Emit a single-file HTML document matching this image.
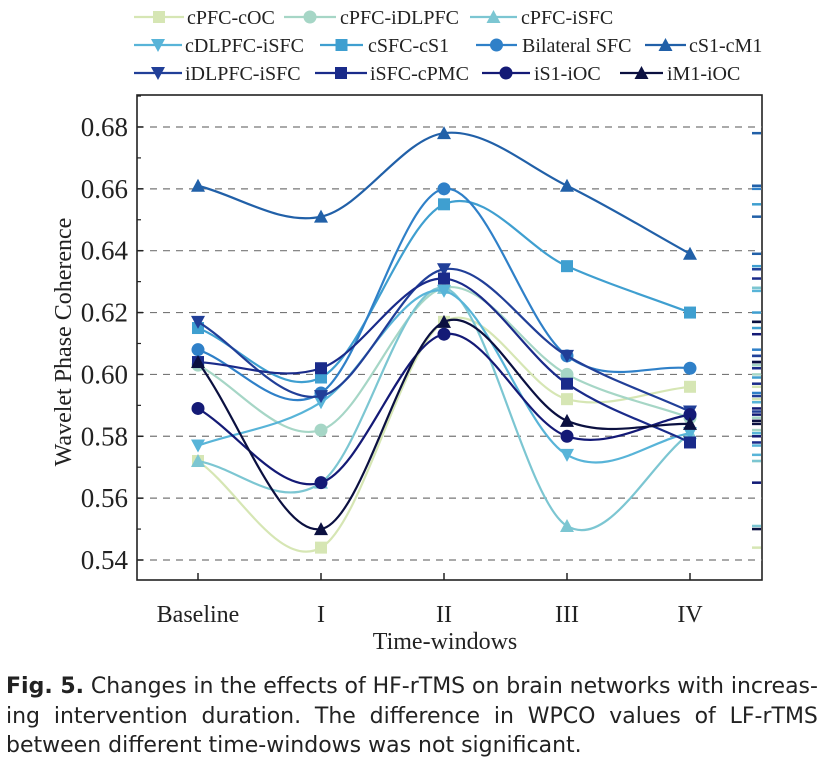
<!DOCTYPE html>
<html><head><meta charset="utf-8"><style>
body{margin:0;background:#fff;width:827px;height:765px;overflow:hidden;position:relative;font-family:"Liberation Serif",serif}
#cap{position:absolute;left:6px;top:672px;width:812px;font-family:"DejaVu Sans",sans-serif;font-size:22px;line-height:29.5px;color:#222;white-space:nowrap}
#cap div{display:flex;justify-content:space-between}
</style></head><body>
<svg id="chart" width="827" height="665" style="position:absolute;left:0;top:0" xmlns="http://www.w3.org/2000/svg"></svg>
<div id="cap">
<div><b>Fig.&nbsp;5.</b><span>Changes</span><span>in</span><span>the</span><span>effects</span><span>of</span><span>HF-rTMS</span><span>on</span><span>brain</span><span>networks</span><span>with</span><span>increas-</span></div>
<div><span>ing</span><span>intervention</span><span>duration.</span><span>The</span><span>difference</span><span>in</span><span>WPCO</span><span>values</span><span>of</span><span>LF-rTMS</span></div>
<div style="display:block">between different time-windows was not significant.</div>
</div>
<script>
const categories=["Baseline","I","II","III","IV"];
const seriesNames=["cPFC-cOC","cPFC-iDLPFC","cPFC-iSFC","cDLPFC-iSFC","cSFC-cS1","Bilateral SFC","cS1-cM1","iDLPFC-iSFC","iSFC-cPMC","iS1-iOC","iM1-iOC"];
const s1=[0.572,0.544,0.617,0.592,0.596];
const s2=[0.603,0.582,0.628,0.600,0.586];
const s3=[0.572,0.565,0.628,0.551,0.581];
const s4=[0.577,0.591,0.627,0.574,0.581];
const s5=[0.615,0.599,0.655,0.635,0.620];
const s6=[0.608,0.594,0.660,0.606,0.602];
const s7=[0.661,0.651,0.678,0.661,0.639];
const s8=[0.617,0.593,0.634,0.606,0.588];
const s9=[0.604,0.602,0.631,0.597,0.578];
const s10=[0.589,0.565,0.613,0.580,0.587];
const s11=[0.604,0.550,0.617,0.585,0.584];
const yTicks=[0.54,0.56,0.58,0.60,0.62,0.64,0.66,0.68];
const colors=["#d6e6b4","#a6d6c6","#7cc6d2","#58b4d8","#3f9fd0","#2f80c8","#2160a8","#213f98","#1a2b8a","#141a76","#0b1040"];
const markers=["sq","ci","tu","td","sq","ci","tu","td","sq","ci","tu"];
const allSeries=[s1,s2,s3,s4,s5,s6,s7,s8,s9,s10,s11];
const NS="http://www.w3.org/2000/svg";
const svg=document.getElementById('chart');
const L=137,R=762,T=95,B=580;
function xs(i){return 198+i*123;}
function ys(v){return 560-(v-0.54)/0.02*61.86;}
function mk(t,a,p){const e=document.createElementNS(NS,t);for(const k in a)e.setAttribute(k,a[k]);(p||svg).appendChild(e);return e;}
function marker(type,x,y,c,s,parent){
  if(type==="sq")return mk('rect',{x:x-s,y:y-s,width:2*s,height:2*s,fill:c},parent);
  if(type==="ci")return mk('circle',{cx:x,cy:y,r:s+0.5,fill:c},parent);
  if(type==="tu")return mk('polygon',{points:`${x-s-1},${y+s} ${x+s+1},${y+s} ${x},${y-s-1}`,fill:c},parent);
  return mk('polygon',{points:`${x-s-1},${y-s} ${x+s+1},${y-s} ${x},${y+s+1}`,fill:c},parent);
}
function curve(px,py){
  const n=px.length,m=[];
  for(let i=0;i<n;i++){
    if(i===0)m.push((py[1]-py[0])/(px[1]-px[0]));
    else if(i===n-1)m.push((py[n-1]-py[n-2])/(px[n-1]-px[n-2]));
    else m.push((py[i+1]-py[i-1])/(px[i+1]-px[i-1]));
  }
  let p=`M${px[0]},${py[0]}`;
  for(let j=0;j<n-1;j++){const h=px[j+1]-px[j];
    p+=` C${px[j]+h/3},${py[j]+m[j]*h/3} ${px[j+1]-h/3},${py[j+1]-m[j+1]*h/3} ${px[j+1]},${py[j+1]}`;}
  return p;
}
const fr=mk('rect',{x:L,y:T,width:R-L,height:B-T,fill:'none',stroke:'#222','stroke-width':1.6});


yTicks.forEach(v=>{
  const g=mk('line',{x1:L,x2:R,y1:ys(v),y2:ys(v),stroke:'#777','stroke-width':1.2,'stroke-dasharray':'7,6'});
  
  
  mk('line',{x1:L,x2:L+6,y1:ys(v),y2:ys(v),stroke:'#222','stroke-width':1.5});
  mk('line',{x1:L,x2:L+4,y1:ys(v+0.01),y2:ys(v+0.01),stroke:'#222','stroke-width':1.2});
  const t=mk('text',{x:L-9,y:ys(v)+9,'text-anchor':'end','font-size':27,fill:'#222','font-family':'Liberation Serif'});
  t.textContent=v.toFixed(2);
  
  
});
categories.forEach((c,i)=>{
  mk('line',{x1:xs(i),x2:xs(i),y1:B,y2:B-7,stroke:'#222','stroke-width':1.5});
  const t=mk('text',{x:xs(i),y:622,'text-anchor':'middle','font-size':24,fill:'#222','font-family':'Liberation Serif'});
  t.textContent=c;
  
  
});
const xt=mk('text',{x:445,y:649,'text-anchor':'middle','font-size':24,fill:'#222','font-family':'Liberation Serif'});
xt.textContent="Time-windows";


const yt=mk('text',{x:0,y:0,'text-anchor':'middle','font-size':24,fill:'#222','font-family':'Liberation Serif',transform:'translate(71,342) rotate(-90)'});
yt.textContent="Wavelet Phase Coherence";


allSeries.forEach((s,k)=>{
  const g=mk('g',{});
  
  
  const px=s.map((v,i)=>xs(i)),py=s.map(v=>ys(v));
  mk('path',{d:curve(px,py),fill:'none',stroke:colors[k],'stroke-width':2.2},g);
  s.forEach((v,i)=>{
    const m=marker(markers[k],xs(i),ys(v),colors[k],6,g);
    
    
  });
  s.forEach(v=>{mk('line',{x1:R-10,x2:R-1,y1:ys(v),y2:ys(v),stroke:colors[k],'stroke-width':2.5},g);});
});
const legPos=[[134,184,187,17],[284,336,340,17],[470,517,521,17],[134,182,185,45],[320,363,368,45],[476,517,522,45],[645,686,689,45],[134,182,185,73],[315,367,370,73],[482,530,534,73],[620,663,667,73]];
seriesNames.forEach((n,k)=>{
  const [a,b,tx,y]=legPos[k];
  const g=mk('g',{});
  
  
  mk('line',{x1:a,x2:b,y1:y,y2:y,stroke:colors[k],'stroke-width':2.2},g);
  marker(markers[k],(a+b)/2,y,colors[k],6,g);
  const t=mk('text',{x:tx,y:y+7,'font-size':20,fill:'#222','font-family':'Liberation Serif'},g);
  t.textContent=n;
});
</script>
</body></html>
